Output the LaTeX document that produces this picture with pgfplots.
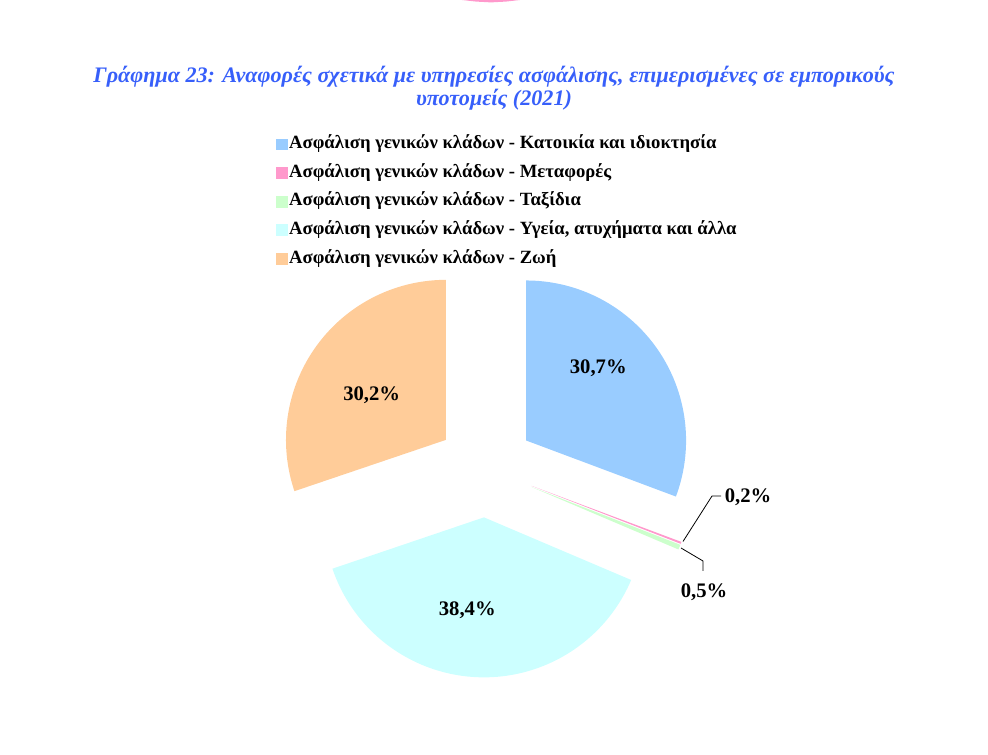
\documentclass[border=0pt]{standalone}
\usepackage{fontspec}
\setmainfont{Liberation Serif}
\usepackage{pgfplots}
\usepackage{pgfplotstable}
\pgfplotsset{compat=1.18}

\definecolor{sliceblue}{RGB}{153,204,255}
\definecolor{slicepink}{RGB}{255,153,204}
\definecolor{slicegreen}{RGB}{204,255,204}
\definecolor{slicecyan}{RGB}{204,255,255}
\definecolor{slicepeach}{RGB}{255,204,153}
\definecolor{titleblue}{RGB}{55,95,250}

% shares in percent, clockwise from 12 o'clock
\pgfplotstableread{
share
30.7
0.2
0.5
38.4
30.2
}\piedata

% pie geometry in picture pixels (y upwards)
\def\pcx{485.8}
\def\pcy{286.6}
\def\prad{160}
\def\pexp{49}

\newcommand\pieslice[2]{%
  \pgfplotstablegetelem{#1}{share}\of\piedata
  \pgfmathsetmacro\angEnd{\angStart-3.6*\pgfplotsretval}
  \pgfmathsetmacro\angMid{(\angStart+\angEnd)/2}
  \pgfmathsetmacro\ax{\pcx+\pexp*cos(\angMid)}
  \pgfmathsetmacro\ay{\pcy+\pexp*sin(\angMid)}
  \edef\doslice{\noexpand\addplot[fill=#2, draw=none, domain=\angEnd:\angStart,
    samples=90, forget plot] ({\ax+\prad*cos(x)}, {\ay+\prad*sin(x)})
    -- (axis cs:\ax,\ay) -- cycle;}%
  \doslice
  \global\let\angStart\angEnd
}

\begin{document}
\begin{tikzpicture}
\begin{axis}[
    width=741pt, height=566.25pt, scale only axis,
    xmin=0, xmax=988, ymin=0, ymax=755,
    hide axis, clip=false,
    legend cell align=left,
    legend style={at={(axis cs:276,621)}, anchor=north west, draw=none,
        fill=none, font=\bfseries\fontsize{14}{16}\selectfont,
        row sep=6.4pt, inner sep=0pt,
        nodes={inner sep=1pt, text height=10pt, text depth=3pt}},
    legend image code/.code={\fill[#1] (0pt,-4.1pt) rectangle (8.3pt,4.1pt);},
    ]
% keep the whole frame as the page
\path (rel axis cs:0,0) rectangle (rel axis cs:1,1);

\def\angStart{90}
\pieslice{0}{sliceblue}
\pieslice{1}{slicepink}
\pieslice{2}{slicegreen}
\pieslice{3}{slicecyan}
\pieslice{4}{slicepeach}

% remnant of the previous chart at the top edge
\addplot[fill=slicepink, draw=none, forget plot] coordinates
    {(462,755) (476,753.4) (491,752.6) (506,753.4) (520,755)} -- cycle;

% leader lines of the two thin slices
\addplot[black, line width=0.6pt, forget plot] coordinates {(683,213.5) (712,259) (721,259)};
\addplot[black, line width=0.6pt, forget plot] coordinates {(681,207) (703,194) (703,184)};

\addlegendimage{sliceblue}
\addlegendentry{Ασφάλιση γενικών κλάδων - Κατοικία και ιδιοκτησία}
\addlegendimage{slicepink}
\addlegendentry{Ασφάλιση γενικών κλάδων - Μεταφορές}
\addlegendimage{slicegreen}
\addlegendentry{Ασφάλιση γενικών κλάδων - Ταξίδια}
\addlegendimage{slicecyan}
\addlegendentry{Ασφάλιση γενικών κλάδων - Υγεία, ατυχήματα και άλλα}
\addlegendimage{slicepeach}
\addlegendentry{Ασφάλιση γενικών κλάδων - Ζωή}

\node[align=center, text=titleblue, font=\bfseries\itshape\fontsize{16.6}{17.3}\selectfont]
    at (axis cs:494,667) {Γράφημα 23: Αναφορές σχετικά με υπηρεσίες ασφάλισης, επιμερισμένες σε εμπορικούς\\υποτομείς (2021)};

\begin{scope}[every node/.style={font=\bfseries\fontsize{15.5}{17}\selectfont}]
\node at (axis cs:598.3,386.7) {30,7\%};
\node at (axis cs:371.7,360) {30,2\%};
\node at (axis cs:467.3,144.3) {38,4\%};
\node at (axis cs:748,258) {0,2\%};
\node at (axis cs:704,163) {0,5\%};
\end{scope}
\end{axis}
\end{tikzpicture}
\end{document}
